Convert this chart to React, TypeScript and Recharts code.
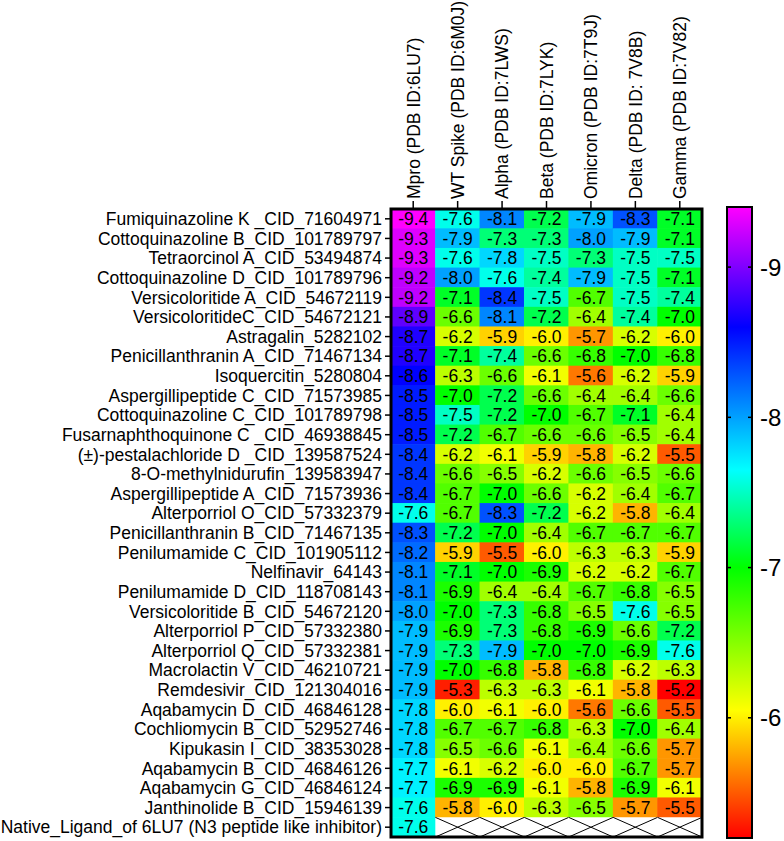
import { ScatterChart, Scatter, BarChart, Bar, XAxis, YAxis, ReferenceArea } from 'recharts';

const compounds = [
  'Fumiquinazoline K _CID_71604971',
  'Cottoquinazoline B_CID_101789797',
  'Tetraorcinol A_CID_53494874',
  'Cottoquinazoline D_CID_101789796',
  'Versicoloritide A_CID_54672119',
  'VersicoloritideC_CID_54672121',
  'Astragalin_5282102',
  'Penicillanthranin A_CID_71467134',
  'Isoquercitin_5280804',
  'Aspergillipeptide C_CID_71573985',
  'Cottoquinazoline C_CID_101789798',
  'Fusarnaphthoquinone C _CID_46938845',
  '(±)-pestalachloride D _CID_139587524',
  '8-O-methylnidurufin_139583947',
  'Aspergillipeptide A_CID_71573936',
  'Alterporriol O_CID_57332379',
  'Penicillanthranin B_CID_71467135',
  'Penilumamide C_CID_101905112',
  'Nelfinavir_64143',
  'Penilumamide D_CID_118708143',
  'Versicoloritide B_CID_54672120',
  'Alterporriol P_CID_57332380',
  'Alterporriol Q_CID_57332381',
  'Macrolactin V_CID_46210721',
  'Remdesivir_CID_121304016',
  'Aqabamycin D_CID_46846128',
  'Cochliomycin B_CID_52952746',
  'Kipukasin I_CID_38353028',
  'Aqabamycin B_CID_46846126',
  'Aqabamycin G_CID_46846124',
  'Janthinolide B_CID_15946139',
  'Native_Ligand_of 6LU7 (N3 peptide like inhibitor)',
];

const targets = [
  'Mpro (PDB ID:6LU7)',
  'WT Spike (PDB ID:6M0J)',
  'Alpha (PDB ID:7LWS)',
  'Beta (PDB ID:7LYK)',
  'Omicron (PDB ID:7T9J)',
  'Delta (PDB ID: 7V8B)',
  'Gamma (PDB ID:7V82)',
];

// docking scores (kcal/mol), one array per target, rows in compound order
const mpro = [-9.4, -9.3, -9.3, -9.2, -9.2, -8.9, -8.7, -8.7, -8.6, -8.5, -8.5, -8.5, -8.4, -8.4, -8.4, -7.6, -8.3, -8.2, -8.1, -8.1, -8.0, -7.9, -7.9, -7.9, -7.9, -7.8, -7.8, -7.8, -7.7, -7.7, -7.6, -7.6];
const wtSpike = [-7.6, -7.9, -7.6, -8.0, -7.1, -6.6, -6.2, -7.1, -6.3, -7.0, -7.5, -7.2, -6.2, -6.6, -6.7, -6.7, -7.2, -5.9, -7.1, -6.9, -7.0, -6.9, -7.3, -7.0, -5.3, -6.0, -6.7, -6.5, -6.1, -6.9, -5.8, null];
const alpha = [-8.1, -7.3, -7.8, -7.6, -8.4, -8.1, -5.9, -7.4, -6.6, -7.2, -7.2, -6.7, -6.1, -6.5, -7.0, -8.3, -7.0, -5.5, -7.0, -6.4, -7.3, -7.3, -7.9, -6.8, -6.3, -6.1, -6.7, -6.6, -6.2, -6.9, -6.0, null];
const beta = [-7.2, -7.3, -7.5, -7.4, -7.5, -7.2, -6.0, -6.6, -6.1, -6.6, -7.0, -6.6, -5.9, -6.2, -6.6, -7.2, -6.4, -6.0, -6.9, -6.4, -6.8, -6.8, -7.0, -5.8, -6.3, -6.0, -6.8, -6.1, -6.0, -6.1, -6.3, null];
const omicron = [-7.9, -8.0, -7.3, -7.9, -6.7, -6.4, -5.7, -6.8, -5.6, -6.4, -6.7, -6.6, -5.8, -6.6, -6.2, -6.2, -6.7, -6.3, -6.2, -6.7, -6.5, -6.9, -7.0, -6.8, -6.1, -5.6, -6.3, -6.4, -6.0, -5.8, -6.5, null];
const delta = [-8.3, -7.9, -7.5, -7.5, -7.5, -7.4, -6.2, -7.0, -6.2, -6.4, -7.1, -6.5, -6.2, -6.5, -6.4, -5.8, -6.7, -6.3, -6.2, -6.8, -7.6, -6.6, -6.9, -6.2, -5.8, -6.6, -7.0, -6.6, -6.7, -6.9, -5.7, null];
const gamma = [-7.1, -7.1, -7.5, -7.1, -7.4, -7.0, -6.0, -6.8, -5.9, -6.6, -6.4, -6.4, -5.5, -6.6, -6.7, -6.4, -6.7, -5.9, -6.7, -6.5, -6.5, -7.2, -7.6, -6.3, -5.2, -5.5, -6.4, -5.7, -5.7, -6.1, -5.5, null];

const scoreColumns = [mpro, wtSpike, alpha, beta, omicron, delta, gamma];

const scaleTicks = [-9, -8, -7, -6];
const scaleMin = -9.4;
const scaleMax = -5.2;
const scaleData = [{ name: 'score', range: [scaleMin, scaleMax] }];

// rainbow colormap: magenta -> blue -> cyan -> green -> yellow -> red
const colorStops: [number, number[]][] = [
  [-9.4, [255, 0, 255]],
  [-8.6, [0, 0, 255]],
  [-7.65, [0, 255, 255]],
  [-7.0, [0, 255, 0]],
  [-6.05, [255, 255, 0]],
  [-5.2, [255, 0, 0]],
];

const toHex = (c: number[]) => '#' + c.map((n) => Math.round(n).toString(16).padStart(2, '0')).join('');

const heatColor = (v: number) => {
  if (v <= colorStops[0][0]) return toHex(colorStops[0][1]);
  for (let i = 1; i < colorStops.length; i++) {
    const [v1, c1] = colorStops[i];
    const [v0, c0] = colorStops[i - 1];
    if (v <= v1) {
      const t = (v - v0) / (v1 - v0);
      return toHex(c0.map((c, k) => c + (c1[k] - c) * t));
    }
  }
  return toHex(colorStops[colorStops.length - 1][1]);
};

const cells = scoreColumns.flatMap((col, c) => col.map((v, r) => ({ col: c, row: r, v })));

const FONT = '"Liberation Sans", Arial, sans-serif';
const CHART_W = 710;
const CHART_H = 841;
const MARGIN = { top: 9, right: 8, bottom: 4, left: 0 };
const X_AXIS_H = 200;
const Y_AXIS_W = 391;
const PLOT_W = CHART_W - MARGIN.left - MARGIN.right - Y_AXIS_W;
const PLOT_H = CHART_H - MARGIN.top - MARGIN.bottom - X_AXIS_H;
const CELL_W = PLOT_W / targets.length;
const CELL_H = PLOT_H / compounds.length;

const HeatCell = (props: any) => {
  const { cx, cy, payload } = props;
  const x = cx - CELL_W / 2;
  const y = cy - CELL_H / 2;
  if (payload.v == null) {
    return (
      <g>
        <rect x={x} y={y} width={CELL_W} height={CELL_H} fill="#fff" />
        <line x1={x} y1={y} x2={x + CELL_W} y2={y + CELL_H} stroke="#000" strokeWidth={1} />
        <line x1={x} y1={y + CELL_H} x2={x + CELL_W} y2={y} stroke="#000" strokeWidth={1} />
      </g>
    );
  }
  return (
    <g>
      <rect x={x - 0.3} y={y - 0.3} width={CELL_W + 0.6} height={CELL_H + 0.6} fill={heatColor(payload.v)} />
      <text x={cx} y={cy} dy="0.36em" textAnchor="middle" fontSize={17.5} fontFamily={FONT} fill="#000">
        {payload.v.toFixed(1)}
      </text>
    </g>
  );
};

const TargetTick = (props: any) => {
  const { x, y, payload } = props;
  return (
    <text
      x={x}
      y={y}
      dy="0.36em"
      transform={`rotate(-90, ${x}, ${y})`}
      textAnchor="start"
      fontSize={17.5}
      fontFamily={FONT}
      fill="#000"
    >
      {targets[payload.value]}
    </text>
  );
};

const BAR_W = 25;
const SCALE_MARGIN = 8;
const SCALE_LEFT = 27;
const SCALE_CHART_W = 84;

const ScaleTick = (props: any) => {
  const { x, y, payload } = props;
  const edge = x - SCALE_MARGIN;
  return (
    <g>
      <line x1={edge - 4} y1={y} x2={edge} y2={y} stroke="#000" strokeWidth={1.5} />
      <line x1={edge - BAR_W} y1={y} x2={edge - BAR_W + 4} y2={y} stroke="#000" strokeWidth={1.5} />
      <text x={x} y={y} dy="0.36em" textAnchor="start" fontSize={24} fontFamily={FONT} fill="#000">
        {payload.value}
      </text>
    </g>
  );
};

export default function App() {
  return (
    <div style={{ position: 'absolute', left: 0, top: 0, width: 784, height: 841, background: '#fff' }}>
      <div style={{ position: 'absolute', left: 0, top: 0 }}>
        <ScatterChart width={CHART_W} height={CHART_H} margin={MARGIN}>
          <XAxis
            type="number"
            dataKey="col"
            orientation="top"
            domain={[-0.5, targets.length - 0.5]}
            ticks={targets.map((_, i) => i)}
            interval={0}
            height={X_AXIS_H}
            axisLine={false}
            tickSize={8}
            tickMargin={2}
            tickLine={{ stroke: '#000', strokeWidth: 1.5 }}
            tick={(p: any) => <TargetTick {...p} />}
          />
          <YAxis
            type="number"
            dataKey="row"
            reversed
            domain={[-0.5, compounds.length - 0.5]}
            ticks={compounds.map((_, i) => i)}
            interval={0}
            width={Y_AXIS_W}
            axisLine={false}
            tickSize={6}
            tickMargin={3}
            tickLine={{ stroke: '#000', strokeWidth: 1.5 }}
            tick={{ fontSize: 17.5, fill: '#000', fontFamily: FONT }}
            tickFormatter={(v: number) => compounds[v]}
          />
          <Scatter data={cells} isAnimationActive={false} shape={(p: any) => <HeatCell {...p} />} />
          <ReferenceArea
            x1={-0.5}
            x2={targets.length - 0.5}
            y1={-0.5}
            y2={compounds.length - 0.5}
            fill="none"
            fillOpacity={0}
            stroke="#000"
            strokeWidth={3}
            ifOverflow="visible"
            zIndex={1500}
          />
        </ScatterChart>
      </div>
      <div style={{ position: 'absolute', left: 700, top: 0 }}>
        <BarChart
          width={SCALE_CHART_W}
          height={841}
          data={scaleData}
          margin={{ top: 207, right: 0, bottom: 3, left: SCALE_LEFT }}
          barCategoryGap={0}
        >
          <defs>
            <linearGradient id="heatScale" x1="0" y1="0" x2="0" y2="1">
              {colorStops.map(([v, c]) => (
                <stop key={v} offset={(v - scaleMin) / (scaleMax - scaleMin)} stopColor={toHex(c)} />
              ))}
            </linearGradient>
          </defs>
          <XAxis type="category" dataKey="name" hide />
          <YAxis
            type="number"
            orientation="right"
            reversed
            domain={[scaleMin, scaleMax]}
            ticks={scaleTicks}
            interval={0}
            width={SCALE_CHART_W - SCALE_LEFT - BAR_W}
            axisLine={false}
            tickLine={false}
            tickSize={0}
            tickMargin={SCALE_MARGIN}
            tick={(p: any) => <ScaleTick {...p} />}
          />
          <Bar
            dataKey="range"
            fill="url(#heatScale)"
            stroke="#000"
            strokeWidth={2}
            isAnimationActive={false}
          />
        </BarChart>
      </div>
    </div>
  );
}
